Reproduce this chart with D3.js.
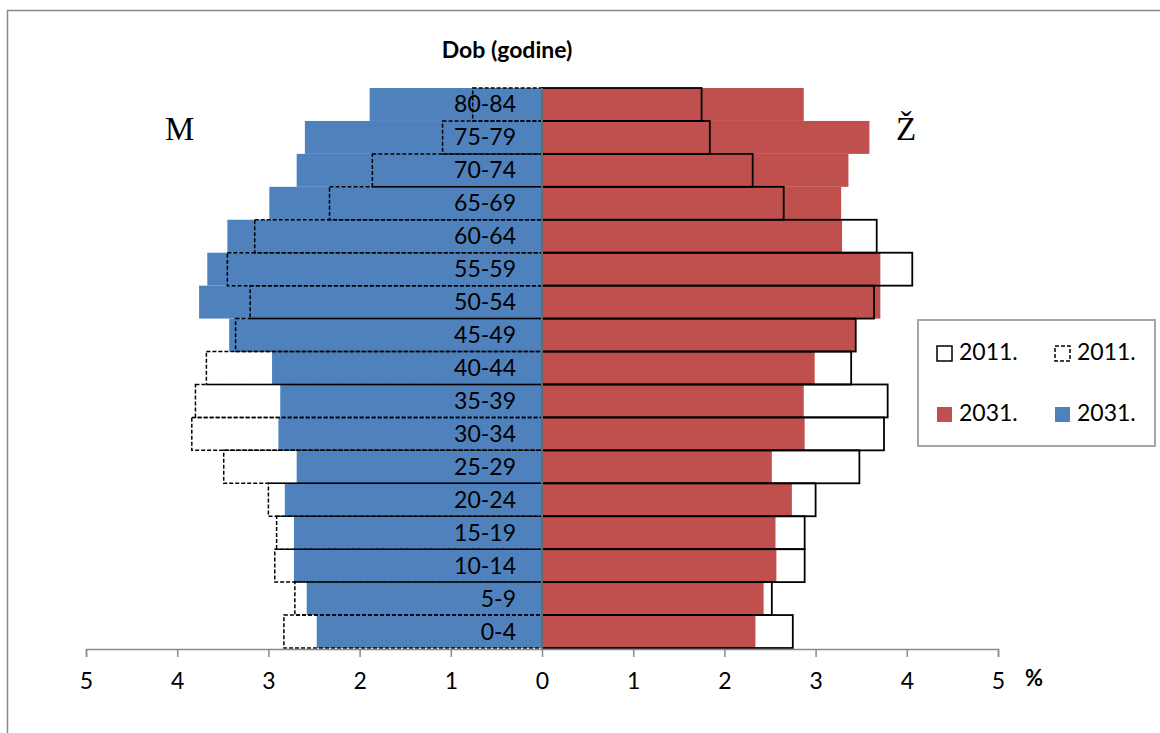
<!DOCTYPE html>
<html><head><meta charset="utf-8">
<script src="https://cdn.jsdelivr.net/npm/d3@7"></script>
<style>body{margin:0;background:#fff}svg{display:block}</style>
</head><body>
<svg id="c" width="1160" height="733"></svg>
<script>
const ageGroups = ["0-4","5-9","10-14","15-19","20-24","25-29","30-34","35-39","40-44","45-49","50-54","55-59","60-64","65-69","70-74","75-79","80-84"];
const male2011   = [2.83,2.71,2.93,2.91,3.00,3.49,3.84,3.80,3.68,3.36,3.20,3.45,3.15,2.33,1.86,1.09,0.76];
const male2031   = [2.47,2.58,2.72,2.72,2.82,2.69,2.89,2.87,2.96,3.43,3.76,3.67,3.45,2.99,2.69,2.60,1.89];
const female2011 = [2.75,2.52,2.88,2.88,3.00,3.48,3.75,3.79,3.39,3.44,3.64,4.06,3.67,2.65,2.31,1.84,1.75];
const female2031 = [2.34,2.43,2.57,2.56,2.74,2.52,2.88,2.87,2.99,3.44,3.71,3.71,3.29,3.28,3.36,3.59,2.87];
const xTicks = [-5,-4,-3,-2,-1,0,1,2,3,4,5];
const legendItems = ["2011.","2011.","2031.","2031."];

const BLUE = "#4F81BD", RED = "#C0504D", GRAY = "#8c8c8c";
const svg = d3.select("#c");
const font = "Lato, 'Noto Sans', sans-serif";

// outer frame
svg.append("rect").attr("x",7.5).attr("y",10.5).attr("width",1200).attr("height",800)
  .attr("fill","none").attr("stroke","#8a8a8a").attr("stroke-width",1.5);

const x = d3.scaleLinear().domain([-5,5]).range([86,998]);
const y = d3.scaleBand().domain(ageGroups.slice().reverse()).range([88,648]).padding(0);
const bw = y.bandwidth();

// male 2031 (blue)
svg.append("g").selectAll("rect").data(ageGroups).join("rect")
  .attr("x",(d,i)=>x(-male2031[i])).attr("y",d=>y(d))
  .attr("width",(d,i)=>x(0)-x(-male2031[i])).attr("height",bw).attr("fill",BLUE);
// female 2031 (red)
svg.append("g").selectAll("rect").data(ageGroups).join("rect")
  .attr("x",x(0)).attr("y",d=>y(d))
  .attr("width",(d,i)=>x(female2031[i])-x(0)).attr("height",bw).attr("fill",RED);
// male 2011 dashed outlines
svg.append("g").selectAll("rect").data(ageGroups).join("rect")
  .attr("x",(d,i)=>x(-male2011[i])).attr("y",d=>y(d))
  .attr("width",(d,i)=>x(0)-x(-male2011[i])).attr("height",bw)
  .attr("fill","none").attr("stroke","#000").attr("stroke-width",1.5).attr("stroke-dasharray","4,2");
// female 2011 solid outlines
svg.append("g").selectAll("rect").data(ageGroups).join("rect")
  .attr("x",x(0)).attr("y",d=>y(d))
  .attr("width",(d,i)=>x(female2011[i])-x(0)).attr("height",bw)
  .attr("fill","none").attr("stroke","#000").attr("stroke-width",1.8);

// center vertical axis
svg.append("line").attr("x1",x(0)).attr("x2",x(0)).attr("y1",88).attr("y2",649)
  .attr("stroke",GRAY).attr("stroke-width",1.5);

// bottom axis
const axis = d3.axisBottom(x).tickValues(xTicks).tickFormat(d=>Math.abs(d)).tickSize(8).tickPadding(16);
const gx = svg.append("g").attr("transform","translate(0,649)").call(axis);
gx.select(".domain").attr("stroke",GRAY).attr("stroke-width",1.5);
gx.selectAll(".tick line").attr("stroke",GRAY).attr("stroke-width",1.5);
gx.selectAll(".tick text").attr("font-family",font).attr("font-size",23).attr("fill","#000");

// category labels
svg.append("g").selectAll("text").data(ageGroups).join("text")
  .attr("x",516).attr("y",d=>y(d)+bw/2+8).attr("text-anchor","end")
  .attr("font-family",font).attr("font-size",23).attr("fill","#000").text(d=>d);

// title
svg.append("text").attr("x",507).attr("y",58).attr("text-anchor","middle")
  .attr("font-family",font).attr("font-weight","bold").attr("font-size",23).text("Dob (godine)");
// % label
svg.append("text").attr("x",1025).attr("y",686).attr("font-family",font).attr("font-weight","bold")
  .attr("font-size",22).text("%");
// M and Ž
svg.append("text").attr("x",165).attr("y",140).attr("font-family","'Liberation Serif', 'Times New Roman', serif")
  .attr("font-size",33).text("M");
svg.append("text").attr("x",896).attr("y",140).attr("font-family","'Liberation Serif', 'Times New Roman', serif")
  .attr("font-size",33).text("Ž");

// legend
const lg = svg.append("g");
lg.append("rect").attr("x",918).attr("y",320).attr("width",237).attr("height",126)
  .attr("fill","#fff").attr("stroke","#a6a6a6").attr("stroke-width",2);
const lpos = [[937,346],[1055,346],[937,407],[1055,407]];
const lstyle = [
  {fill:"none",stroke:"#000",dash:null},
  {fill:"none",stroke:"#000",dash:"4,2"},
  {fill:RED,stroke:"none",dash:null},
  {fill:BLUE,stroke:"none",dash:null}];
legendItems.forEach((t,i)=>{
  const [lx,ly] = lpos[i], s = lstyle[i];
  const r = lg.append("rect").attr("x",lx).attr("y",ly).attr("width",15).attr("height",15)
    .attr("fill",s.fill).attr("stroke",s.stroke).attr("stroke-width",1.5);
  if (s.dash) r.attr("stroke-dasharray",s.dash);
  lg.append("text").attr("x",lx+22).attr("y",ly+14).attr("font-family",font).attr("font-size",23).text(t);
});
</script>
</body></html>
